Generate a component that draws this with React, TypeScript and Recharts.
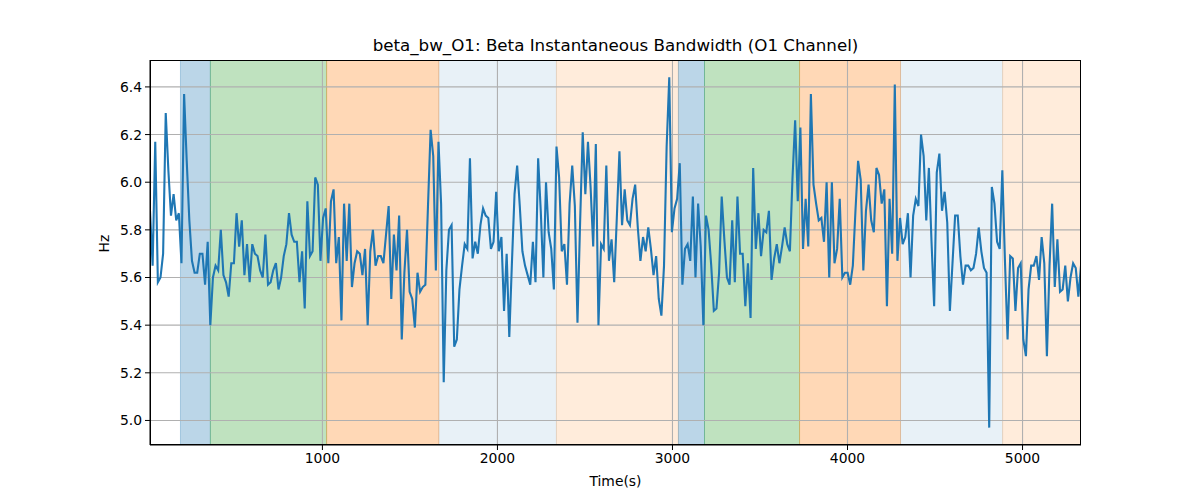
import {
  Line,
  LineChart,
  ReferenceArea,
  ReferenceLine,
  XAxis,
  YAxis,
} from "recharts";

// Beta instantaneous bandwidth (Hz) on channel O1.
const bandwidth: number[] = [
  5.88, 5.65, 6.17, 5.58, 5.6, 5.7, 6.29, 6.05, 5.86, 5.95, 5.84, 5.87, 5.66, 6.37, 6.09, 5.84,
  5.67, 5.62, 5.62, 5.7, 5.7, 5.57, 5.75, 5.4, 5.6, 5.65, 5.63, 5.8, 5.61, 5.58, 5.52, 5.66,
  5.66, 5.87, 5.73, 5.84, 5.61, 5.74, 5.58, 5.74, 5.7, 5.69, 5.63, 5.6, 5.78, 5.57,
  5.58, 5.63, 5.66, 5.55, 5.6, 5.69, 5.74, 5.87, 5.78, 5.75, 5.75, 5.58, 5.71, 5.47, 5.92, 5.69,
  5.71, 6.02, 5.99, 5.67, 5.85, 5.89, 5.66, 5.92, 5.97, 5.66, 5.77, 5.42, 5.91, 5.67, 5.91, 5.56,
  5.66, 5.71, 5.7, 5.61, 5.72, 5.4, 5.71, 5.8, 5.65, 5.69, 5.69, 5.66,
  5.78, 5.9, 5.51, 5.78, 5.63, 5.86, 5.34, 5.62, 5.8, 5.54, 5.51, 5.39, 5.62, 5.54, 5.56, 5.57,
  5.9, 6.22, 6.11, 5.63, 6.17, 5.91, 5.16, 5.63, 5.8, 5.82, 5.31, 5.34, 5.55, 5.65, 5.74, 5.72,
  6.1, 5.68, 5.75, 5.7, 5.82, 5.89, 5.86, 5.85, 5.72, 5.75, 5.96, 5.71,
  5.77, 5.46, 5.7, 5.35, 5.66, 5.95, 6.07, 5.9, 5.71, 5.65, 5.61, 5.57, 5.75, 5.58, 6.1, 5.88,
  5.6, 6.0, 5.79, 5.72, 5.55, 6.15, 6.02, 5.71, 5.74, 5.57, 5.91, 6.07, 5.9, 5.41, 5.83, 6.21,
  5.95, 6.17, 5.98, 5.73, 6.16, 5.4, 5.74, 5.72, 6.07, 5.67, 5.76, 5.58,
  5.85, 6.13, 5.82, 5.97, 5.84, 5.82, 5.93, 5.99, 5.81, 5.67, 5.77, 5.71, 5.81, 5.72, 5.61, 5.69,
  5.51, 5.44, 5.65, 6.15, 6.44, 5.79, 5.89, 5.93, 6.08, 5.57, 5.72, 5.74, 5.67, 5.94, 5.6, 5.91,
  5.73, 5.4, 5.86, 5.8, 5.65, 5.46, 5.47, 5.62, 5.94, 5.76, 5.6, 5.57, 5.84,
  5.58, 5.94, 5.7, 5.7, 5.48, 5.66, 5.43, 6.06, 5.72, 5.87, 5.69, 5.8, 5.79, 5.88, 5.59, 5.68,
  5.74, 5.66, 5.73, 5.81, 5.74, 5.71, 6.02, 6.26, 5.92, 6.23, 5.72, 5.93, 5.73, 6.37, 5.99, 5.91,
  5.84, 5.85, 5.75, 6.0, 5.6, 6.0, 5.66, 5.72, 5.93, 5.6, 5.62, 5.62,
  5.57, 5.65, 5.88, 6.09, 6.01, 5.63, 5.88, 5.99, 5.84, 5.79, 6.06, 6.03, 5.91, 5.97, 5.48, 5.93,
  5.7, 6.41, 5.67, 5.85, 5.74, 5.77, 5.87, 5.6, 5.86, 5.93, 5.9, 6.2, 6.11, 5.84, 6.06, 5.75,
  5.48, 6.04, 6.12, 5.88, 5.96, 5.83, 5.46, 5.66, 5.86, 5.86, 5.69, 5.57,
  5.65, 5.65, 5.63, 5.64, 5.7, 5.81, 5.71, 5.64, 5.62, 4.97, 5.98, 5.91, 5.75, 5.72, 6.05, 5.67,
  5.34, 5.69, 5.68, 5.46, 5.64, 5.66, 5.34, 5.27, 5.55, 5.65, 5.65, 5.69, 5.59, 5.77, 5.66, 5.27,
  5.65, 5.91, 5.56, 5.76, 5.54, 5.55, 5.65, 5.5, 5.6, 5.66, 5.64, 5.52, 5.65,
];

// samples are evenly spaced in time (seconds)
const T_START = 15;
const T_END = 5334;

// task phases shaded behind the trace (seconds)
const phaseStart = [189, 360, 1024, 1665, 2337, 3034, 3183, 3726, 4303, 4886];
const phaseEnd = [360, 1024, 1665, 2337, 3034, 3183, 3726, 4303, 4886, 5334];
const phaseKind = ["a", "b", "c", "d", "e", "a", "b", "c", "d", "e"];

const xTicks = [1000, 2000, 3000, 4000, 5000];
const yTicks = [5.0, 5.2, 5.4, 5.6, 5.8, 6.0, 6.2, 6.4];

const PHASE_STYLE: Record<string, { color: string; opacity: number }> = {
  a: { color: "#1f77b4", opacity: 0.3 },
  b: { color: "#2ca02c", opacity: 0.3 },
  c: { color: "#ff7f0e", opacity: 0.3 },
  d: { color: "#1f77b4", opacity: 0.1 },
  e: { color: "#ff7f0e", opacity: 0.15 },
};

const Y_DOMAIN: [number, number] = [4.897, 6.513];

const step = (T_END - T_START) / (bandwidth.length - 1);
const data = bandwidth.map((hz, i) => ({ t: T_START + i * step, hz }));

const FONT = "DejaVu Sans, sans-serif";
const tickStyle = { fill: "#000", fontSize: 13.9, fontFamily: FONT };
const GRID = "#b0b0b0";

export default function App() {
  return (
    <div style={{ position: "absolute", left: 0, top: 0, width: 1200, height: 500, background: "#fff" }}>
      <div
        style={{
          position: "absolute",
          left: 150,
          width: 931,
          top: 35,
          textAlign: "center",
          fontFamily: FONT,
          fontSize: 16.7,
          color: "#000",
        }}
      >
        beta_bw_O1: Beta Instantaneous Bandwidth (O1 Channel)
      </div>
      <LineChart
        width={1200}
        height={500}
        data={data}
        margin={{ top: 60, right: 119, bottom: 0, left: 0 }}
      >
        {phaseStart.map((x1, i) => {
          const s = PHASE_STYLE[phaseKind[i]];
          return (
            <ReferenceArea
              key={`p${i}`}
              x1={x1}
              x2={phaseEnd[i]}
              fill={s.color}
              fillOpacity={s.opacity}
              stroke={s.color}
              strokeOpacity={s.opacity}
              ifOverflow="hidden"
            />
          );
        })}
        {/* grid drawn over the phase shading, as matplotlib does */}
        {xTicks.map((x) => (
          <ReferenceLine key={`gx${x}`} x={x} stroke={GRID} strokeWidth={1.1} />
        ))}
        {yTicks.map((y) => (
          <ReferenceLine key={`gy${y}`} y={y} stroke={GRID} strokeWidth={1.1} />
        ))}
        <XAxis
          dataKey="t"
          type="number"
          domain={[T_START, T_END]}
          ticks={xTicks}
          allowDataOverflow
          height={55}
          tick={tickStyle}
          tickSize={5}
          tickMargin={3}
          stroke="#000"
          label={{ value: "Time(s)", position: "insideBottom", offset: 14, fill: "#000", fontSize: 13.9, fontFamily: FONT }}
        />
        <YAxis
          type="number"
          domain={Y_DOMAIN}
          ticks={yTicks}
          allowDataOverflow
          width={150}
          tick={tickStyle}
          tickSize={5}
          tickMargin={3}
          tickFormatter={(v: number) => v.toFixed(1)}
          stroke="#000"
          label={{ value: "Hz", angle: -90, position: "insideLeft", offset: 104, fill: "#000", fontSize: 13.9, fontFamily: FONT }}
        />
        <Line
          type="linear"
          dataKey="hz"
          stroke="#1f77b4"
          strokeWidth={2.1}
          dot={false}
          isAnimationActive={false}
        />
      </LineChart>
      {/* axes frame */}
      <div
        style={{
          position: "absolute",
          left: 150,
          top: 60,
          width: 931,
          height: 385,
          boxSizing: "border-box",
          border: "1px solid #000",
          pointerEvents: "none",
        }}
      />
    </div>
  );
}
